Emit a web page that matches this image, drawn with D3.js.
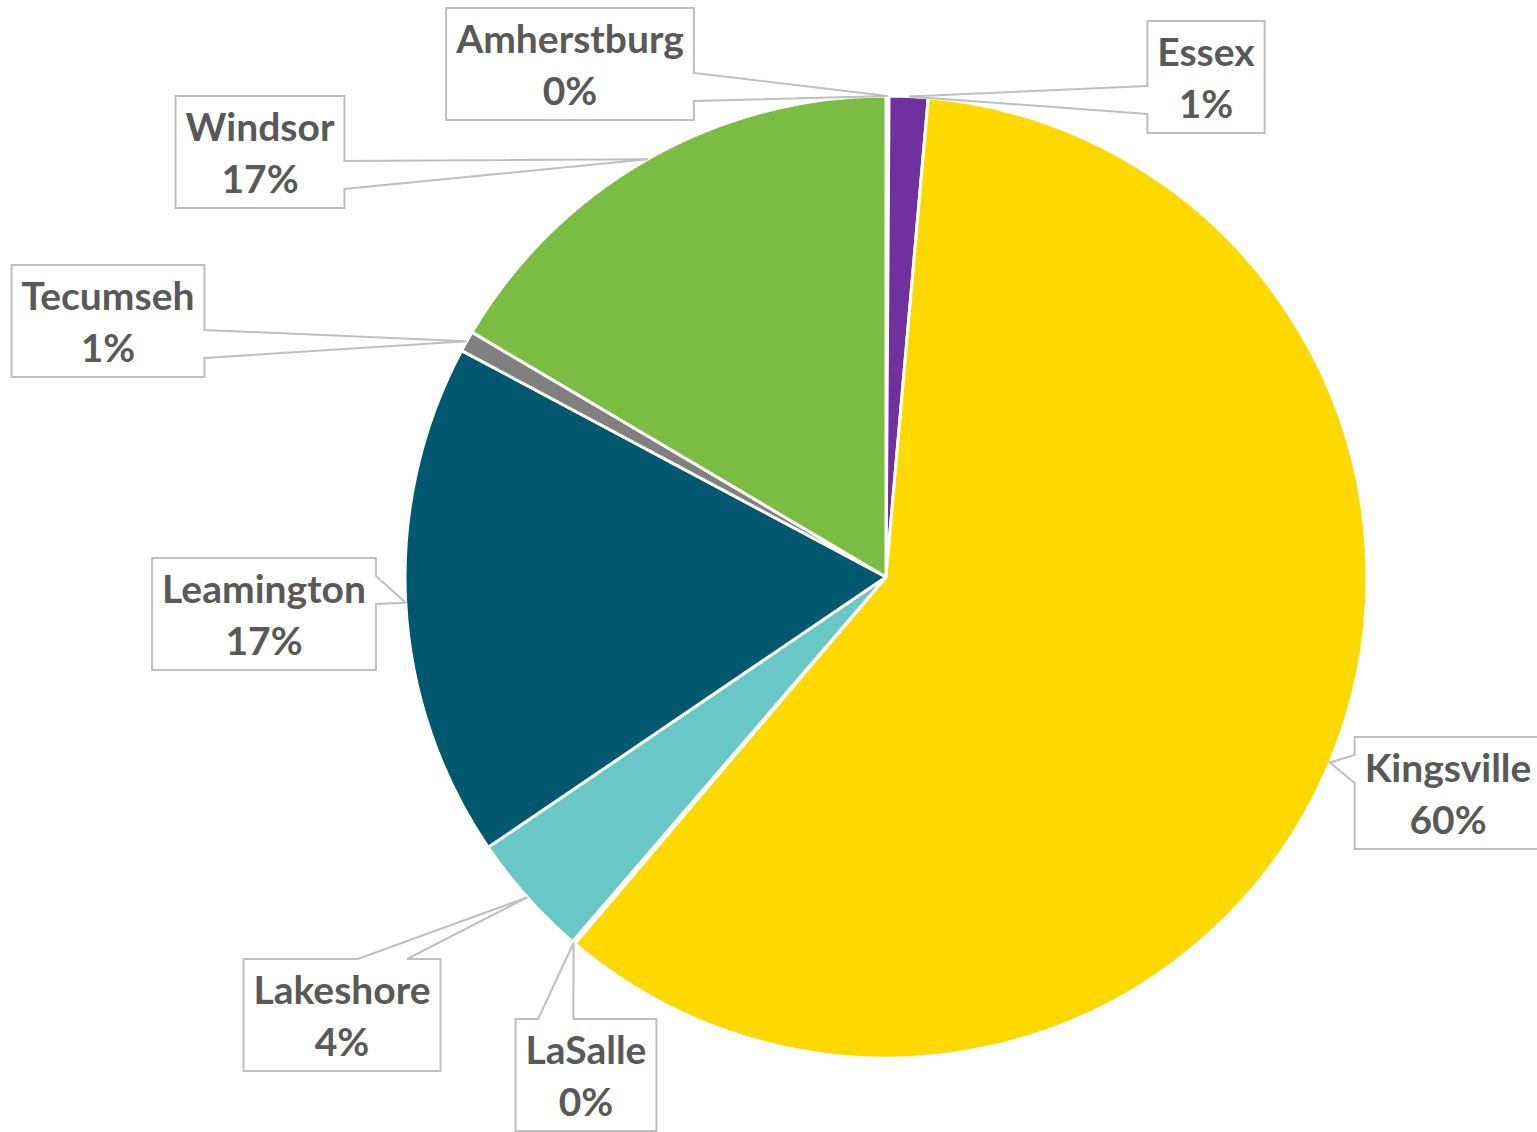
<!DOCTYPE html>
<html lang="en">
<head>
  <meta charset="UTF-8">
  <title>Pie chart by municipality</title>
  <script src="https://d3js.org/d3.v7.min.js"></script>
  <style>
    body {
      margin: 0;
      padding: 0;
      background: #fff;
      font-family: Lato, "Open Sans", sans-serif;
    }
    .callout {
      fill: #fff;
      stroke: #bfbfbf;
      stroke-width: 2px;
    }
    .lbl {
      font-weight: 700;
      font-size: 39px;
      fill: #595959;
    }
  </style>
</head>
<body>
<div id="chart"></div>

<script>
  // data, clockwise from 12 o'clock
  const cities = ["Amherstburg", "Essex", "Kingsville", "LaSalle", "Lakeshore", "Leamington", "Tecumseh", "Windsor"];
  const shares = [0.1, 1.3, 59.8, 0.1, 4.2, 17.3, 0.7, 16.5];
  const colors = ["#ed7d31", "#7030a0", "#fdd900", "#4472c4", "#69c7c6", "#02586e", "#808080", "#7bbc43"];

  // label box centres (layout)
  const labelX = [570, 1206, 1448, 586, 342, 264, 108, 260];
  const labelY = [64, 77, 793, 1075, 1015, 614, 321, 152];

  const width = 1537,
        height = 1132,
        cx = 886,
        cy = 577,
        radius = 481,
        boxH = 112;

  const svg = d3.select("#chart")
    .append("svg")
    .attr("width", width)
    .attr("height", height);

  const g = svg.append("g")
    .attr("transform", `translate(${cx}, ${cy})`);

  const total = d3.sum(shares);
  const pie = d3.pie().sort(null).value(d => d);
  const arcs = pie(shares);

  const arc = d3.arc()
    .innerRadius(0)
    .outerRadius(radius);

  g.selectAll(".slice")
    .data(arcs)
    .enter()
    .append("path")
    .attr("class", "slice")
    .attr("d", arc)
    .attr("fill", (d, i) => colors[i])
    .attr("stroke", "#fff")
    .attr("stroke-width", 3)
    .attr("stroke-linejoin", "round");

  // point on the rim at the middle of each slice
  function anchor(d) {
    const a = (d.startAngle + d.endAngle) / 2;
    return [cx + radius * Math.sin(a), cy - radius * Math.cos(a)];
  }

  // rectangle with a wedge tail pointing at (ax, ay)
  function calloutPath(x0, y0, x1, y1, ax, ay) {
    const w = x1 - x0, h = y1 - y0;
    const mx = (x0 + x1) / 2, my = (y0 + y1) / 2;
    const nx = (ax - mx) / (w / 2), ny = (ay - my) / (h / 2);
    let side, b0, b1;
    if (Math.abs(nx) >= Math.abs(ny)) {
      side = nx < 0 ? "left" : "right";
      const f = ay > my ? [0.58, 0.83] : [0.16, 0.41];
      b0 = y0 + f[0] * h; b1 = y0 + f[1] * h;
    } else {
      side = ny < 0 ? "top" : "bottom";
      const f = ax > mx ? [0.58, 0.83] : [0.16, 0.41];
      b0 = x0 + f[0] * w; b1 = x0 + f[1] * w;
    }
    const p = d3.path();
    p.moveTo(x0, y0);
    if (side === "top") { p.lineTo(b0, y0); p.lineTo(ax, ay); p.lineTo(b1, y0); }
    p.lineTo(x1, y0);
    if (side === "right") { p.lineTo(x1, b0); p.lineTo(ax, ay); p.lineTo(x1, b1); }
    p.lineTo(x1, y1);
    if (side === "bottom") { p.lineTo(b1, y1); p.lineTo(ax, ay); p.lineTo(b0, y1); }
    p.lineTo(x0, y1);
    if (side === "left") { p.lineTo(x0, b1); p.lineTo(ax, ay); p.lineTo(x0, b0); }
    p.closePath();
    return p.toString();
  }

  const labels = svg.append("g")
    .selectAll(".label")
    .data(arcs)
    .enter()
    .append("g")
    .attr("class", "label");

  const shapes = labels.append("path").attr("class", "callout");

  const nameText = labels.append("text")
    .attr("class", "lbl")
    .attr("text-anchor", "middle")
    .attr("x", (d, i) => labelX[i])
    .attr("y", (d, i) => labelY[i] - boxH / 2 + 45)
    .text((d, i) => cities[i]);

  const pctText = labels.append("text")
    .attr("class", "lbl")
    .attr("text-anchor", "middle")
    .attr("x", (d, i) => labelX[i])
    .attr("y", (d, i) => labelY[i] - boxH / 2 + 97)
    .text((d, i) => Math.round(shares[i] / total * 100) + "%");

  shapes.attr("d", function(d, i) {
    const tw = Math.max(nameText.nodes()[i].getComputedTextLength(),
                        pctText.nodes()[i].getComputedTextLength());
    const bw = tw + 20;
    const x0 = labelX[i] - bw / 2, y0 = labelY[i] - boxH / 2;
    const [ax, ay] = anchor(d);
    return calloutPath(x0, y0, x0 + bw, y0 + boxH, ax, ay);
  });
</script>
</body>
</html>
